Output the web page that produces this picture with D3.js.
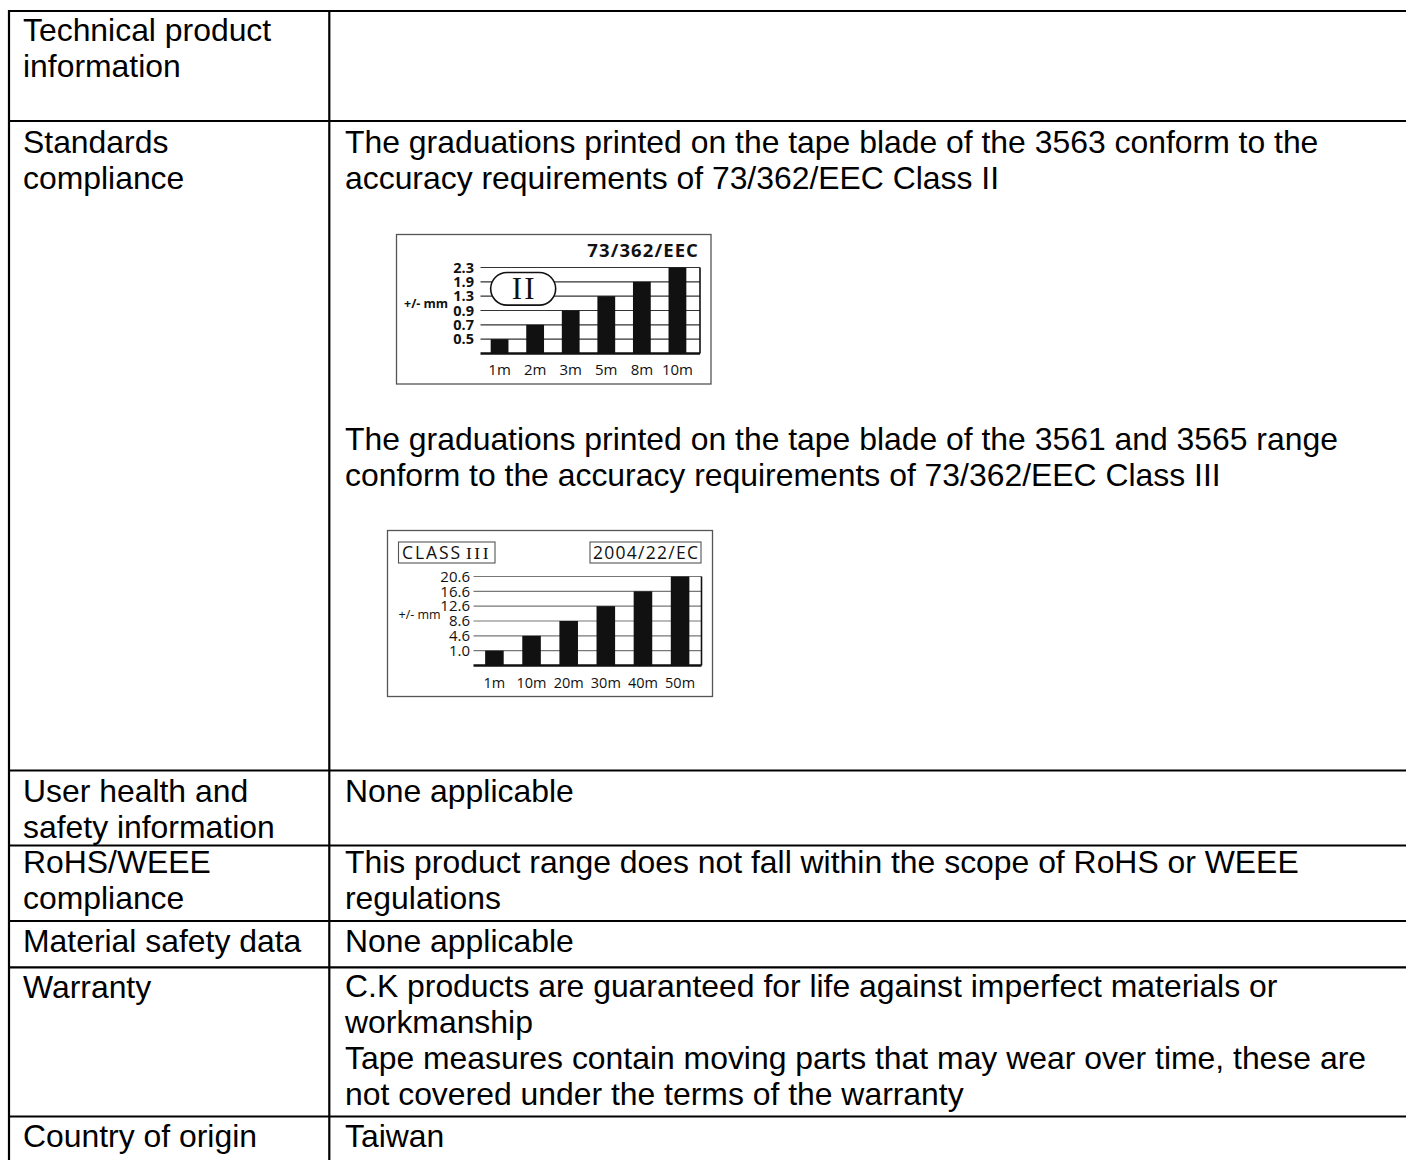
<!DOCTYPE html>
<html>
<head>
<meta charset="utf-8">
<script src="https://cdn.jsdelivr.net/npm/d3@7"></script>
<style>
  html, body { margin: 0; padding: 0; background: #fff; }
  svg { display: block; }
</style>
</head>
<body>
<svg id="page" width="1406" height="1160"></svg>
<script>
// ---------------- DATA ----------------
const rowLabels = [
  ["Technical product", "information"],
  ["Standards", "compliance"],
  ["User health and", "safety information"],
  ["RoHS/WEEE", "compliance"],
  ["Material safety data"],
  ["Warranty"],
  ["Country of origin"]
];
const para1 = ["The graduations printed on the tape blade of the 3563 conform to the",
               "accuracy requirements of 73/362/EEC Class II"];
const para2 = ["The graduations printed on the tape blade of the 3561 and 3565 range",
               "conform to the accuracy requirements of 73/362/EEC Class III"];
const rowValues = [
  [],
  [],
  ["None applicable"],
  ["This product range does not fall within the scope of RoHS or WEEE", "regulations"],
  ["None applicable"],
  ["C.K products are guaranteed for life against imperfect materials or", "workmanship",
   "Tape measures contain moving parts that may wear over time, these are",
   "not covered under the terms of the warranty"],
  ["Taiwan"]
];

// Chart 1 : 73/362/EEC Class II
const class2Title = "73/362/EEC";
const class2Badge = "II";
const class2Lengths = ["1m", "2m", "3m", "5m", "8m", "10m"];
const class2Ticks = ["0.5", "0.7", "0.9", "1.3", "1.9", "2.3"];
const class2Values = [0.5, 0.7, 0.9, 1.3, 1.9, 2.3];

// Chart 2 : Class III 2004/22/EC
const class3Word = "CLASS";
const class3Numeral = "III";
const class3Title = "2004/22/EC";
const class3Lengths = ["1m", "10m", "20m", "30m", "40m", "50m"];
const class3Ticks = ["1.0", "4.6", "8.6", "12.6", "16.6", "20.6"];
const class3Values = [1.0, 4.6, 8.6, 12.6, 16.6, 20.6];

const unitLabel = "+/- mm";

// ---------------- LAYOUT ----------------
const svg = d3.select("#page");
const mainFont = "'Liberation Sans', Arial, sans-serif";
const chartFont = "'Open Sans', 'Noto Sans', sans-serif";
const serifFont = "'Liberation Serif', 'Times New Roman', serif";
const fs = 31.9;

const rowLines = [11, 121, 770.5, 845.5, 921, 967.3, 1116.5];
const colLeft = 9, colMid = 329.3;
const leftX = 23, rightX = 345;
const leftBaselines = [[41, 77], [153, 189], [801.5, 837.5], [873, 909], [952], [997.5], [1147]];
const rightBaselines = [[], [], [801.5], [873, 909], [952], [997, 1033, 1069, 1105], [1147]];

// table lines
const grid = svg.append("g").attr("stroke", "#000").attr("stroke-width", 2.2);
rowLines.forEach(y => grid.append("line").attr("x1", colLeft - 1).attr("x2", 1406).attr("y1", y).attr("y2", y));
grid.append("line").attr("x1", colLeft).attr("x2", colLeft).attr("y1", rowLines[0] - 1).attr("y2", 1160);
grid.append("line").attr("x1", colMid).attr("x2", colMid).attr("y1", rowLines[0] - 1).attr("y2", 1160);

function textLines(lines, x, ys) {
  lines.forEach((t, i) => {
    svg.append("text").attr("x", x).attr("y", ys[i])
      .attr("font-family", mainFont).attr("font-size", fs).attr("fill", "#000").text(t);
  });
}
rowLabels.forEach((lines, i) => textLines(lines, leftX, leftBaselines[i]));
rowValues.forEach((lines, i) => textLines(lines, rightX, rightBaselines[i]));
textLines(para1, rightX, [153, 189]);
textLines(para2, rightX, [450, 486]);

// ---------------- CHARTS ----------------
function barChart(cfg) {
  const g = svg.append("g");
  g.append("rect").attr("x", cfg.box[0]).attr("y", cfg.box[1]).attr("width", cfg.box[2]).attr("height", cfg.box[3])
    .attr("fill", "#fff").attr("stroke", "#555").attr("stroke-width", 1.3);

  const y = d3.scalePoint().domain([""].concat(cfg.ticks)).range(cfg.yRange);
  const x = d3.scaleBand().domain(cfg.cats).range(cfg.xRange).paddingInner(0.5).paddingOuter(0.3);
  const fmt = d3.format(".1f");

  // gridlines
  g.selectAll("line.grid").data(cfg.ticks).join("line").attr("class", "grid")
    .attr("x1", cfg.gridX[0]).attr("x2", cfg.gridX[1])
    .attr("y1", d => y(d)).attr("y2", d => y(d))
    .attr("stroke", cfg.gridColor).attr("stroke-width", 1.1);
  // right edge
  g.append("line").attr("x1", cfg.gridX[1]).attr("x2", cfg.gridX[1])
    .attr("y1", y(cfg.ticks[cfg.ticks.length - 1])).attr("y2", y(""))
    .attr("stroke", "#111").attr("stroke-width", 1.6);

  if (cfg.decor) cfg.decor(g, x, y);

  // bars
  g.selectAll("rect.bar").data(cfg.values).join("rect").attr("class", "bar")
    .attr("x", (d, i) => x(cfg.cats[i])).attr("width", x.bandwidth())
    .attr("y", d => y(fmt(d))).attr("height", d => y("") - y(fmt(d)))
    .attr("fill", "#111");
  // baseline
  g.append("line").attr("x1", cfg.gridX[0]).attr("x2", cfg.gridX[1])
    .attr("y1", y("")).attr("y2", y(""))
    .attr("stroke", "#111").attr("stroke-width", 2.6);

  // y tick labels
  g.selectAll("text.yt").data(cfg.ticks).join("text").attr("class", "yt")
    .attr("x", cfg.tickX).attr("y", d => y(d)).attr("dy", "0.35em")
    .attr("text-anchor", "end").attr("font-family", chartFont)
    .attr("font-size", cfg.tickSize).attr("font-weight", cfg.tickWeight).attr("fill", "#111")
    .text(d => d);
  // x labels
  g.selectAll("text.xt").data(cfg.cats).join("text").attr("class", "xt")
    .attr("x", d => x(d) + x.bandwidth() / 2).attr("y", cfg.xLabelY)
    .attr("text-anchor", "middle").attr("font-family", chartFont)
    .attr("font-size", cfg.xSize).attr("fill", "#111").text(d => d);
  // unit
  g.append("text").attr("x", cfg.unitPos[0]).attr("y", cfg.unitPos[1]).attr("dy", "0.35em")
    .attr("font-family", chartFont).attr("font-size", cfg.unitSize).attr("font-weight", cfg.unitWeight)
    .attr("fill", "#111").text(unitLabel);
  return g;
}

// Chart 1
barChart({
  box: [396.5, 234.5, 314.5, 149.5],
  cats: class2Lengths, ticks: class2Ticks, values: class2Values,
  yRange: [353.5, 267.5], xRange: [480, 697], gridX: [480.5, 700],
  gridColor: "#333", tickX: 474, tickSize: 14.5, tickWeight: "bold",
  xLabelY: 374.5, xSize: 15, unitPos: [404, 304], unitSize: 12.5, unitWeight: "bold",
  decor: (g, x, y) => {
    const top = y(class2Ticks[5]) + 5, bot = y(class2Ticks[3]) + 9;
    const left = x(class2Lengths[0]), right = left + 65;
    g.append("rect").attr("x", left).attr("y", top).attr("width", right - left).attr("height", bot - top)
      .attr("rx", (bot - top) / 2).attr("fill", "#fff").attr("stroke", "#111").attr("stroke-width", 1.6);
    g.append("text").attr("x", (left + right) / 2 + 1).attr("y", bot - 6)
      .attr("text-anchor", "middle").attr("font-family", serifFont)
      .attr("font-size", 31).attr("letter-spacing", 2).attr("fill", "#111").text(class2Badge);
    g.append("text").attr("x", 699).attr("y", 257).attr("text-anchor", "end")
      .attr("font-family", chartFont).attr("font-size", 18.5).attr("font-weight", "bold")
      .attr("letter-spacing", 1.1).attr("fill", "#111").text(class2Title);
  }
});

// Chart 2
barChart({
  box: [387.5, 530.5, 325, 166],
  cats: class3Lengths, ticks: class3Ticks, values: class3Values,
  yRange: [665.5, 576.5], xRange: [474, 700.5], gridX: [473.5, 701.5],
  gridColor: "#777", tickX: 470, tickSize: 15, tickWeight: "normal",
  xLabelY: 687.5, xSize: 14.5, unitPos: [398.5, 615], unitSize: 12.5, unitWeight: "normal",
  decor: (g) => {
    g.append("rect").attr("x", 398.5).attr("y", 542).attr("width", 96.5).attr("height", 21)
      .attr("fill", "#fff").attr("stroke", "#555").attr("stroke-width", 1.1);
    g.append("text").attr("x", 402).attr("y", 559).attr("font-family", chartFont)
      .attr("font-size", 17.5).attr("textLength", 58).attr("lengthAdjust", "spacing")
      .attr("fill", "#111").text(class3Word);
    g.append("text").attr("x", 466).attr("y", 559).attr("font-family", serifFont)
      .attr("font-size", 17.5).attr("letter-spacing", 2.5).attr("fill", "#111").text(class3Numeral);
    g.append("rect").attr("x", 590).attr("y", 542).attr("width", 111).attr("height", 21)
      .attr("fill", "#fff").attr("stroke", "#555").attr("stroke-width", 1.1);
    g.append("text").attr("x", 593).attr("y", 559).attr("font-family", chartFont)
      .attr("font-size", 17.5).attr("textLength", 105).attr("lengthAdjust", "spacing")
      .attr("fill", "#111").text(class3Title);
  }
});
</script>
</body>
</html>
